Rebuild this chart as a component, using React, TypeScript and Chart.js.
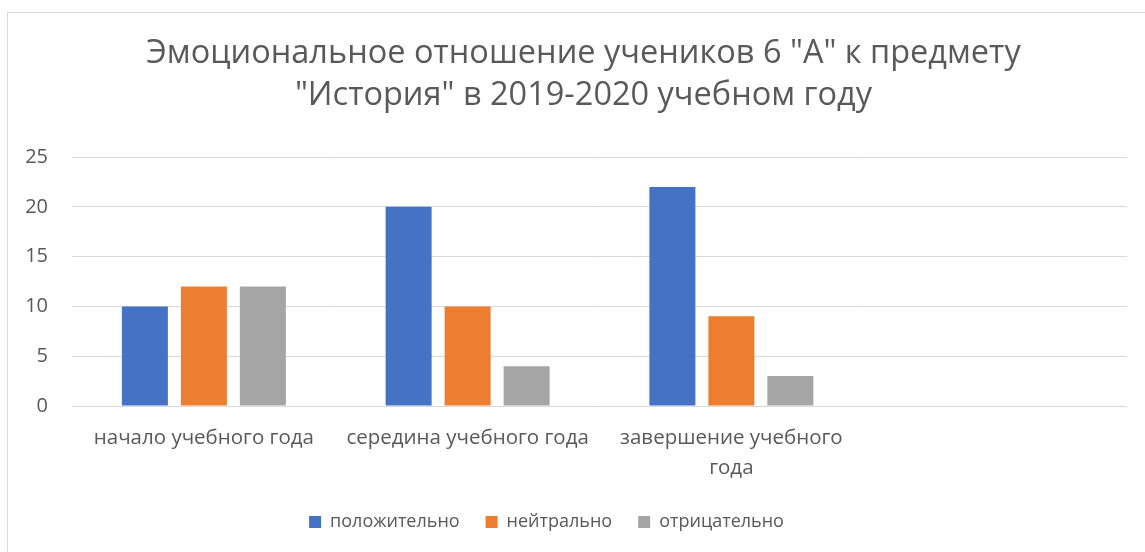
import React, { useEffect, useRef } from "react";
import { Chart, registerables } from "chart.js";

Chart.register(...registerables);

const categories: (string | string[])[] = [
  "начало учебного года",
  "середина учебного года",
  ["завершение учебного", "года"],
  "",
];
const positive = [10, 20, 22, null];
const neutral = [12, 10, 9, null];
const negative = [12, 4, 3, null];
const seriesNames = ["положительно", "нейтрально", "отрицательно"];
const titleLines = [
  "Эмоциональное отношение учеников 6 \"А\" к предмету",
  "\"История\" в 2019-2020 учебном году",
];
const yMax = 25;
const yStep = 5;

const FONT = "'Open Sans', 'Noto Sans', sans-serif";
const TEXT = "#595959";
const GRID = "#d9d9d9";

// shifts the title and legend boxes horizontally (as in the reference layout)
const shiftPlugin = {
  id: "shiftBlocks",
  afterLayout(chart: any) {
    const t = chart.titleBlock;
    if (t) {
      t.left += 20;
      t.right += 20;
    }
    const l = chart.legend;
    if (l) {
      l.left -= 17;
      l.right -= 17;
    }
  },
};

export default function App() {
  const ref = useRef<HTMLCanvasElement | null>(null);

  useEffect(() => {
    document.body.style.margin = "0";
    const ctx = ref.current!;
    const chart = new Chart(ctx, {
      type: "bar",
      data: {
        labels: categories as any,
        datasets: [
          { label: seriesNames[0], data: positive, backgroundColor: "#4472C4" },
          { label: seriesNames[1], data: neutral, backgroundColor: "#ED7D31" },
          { label: seriesNames[2], data: negative, backgroundColor: "#A5A5A5" },
        ],
      },
      plugins: [shiftPlugin],
      options: {
        animation: false,
        responsive: true,
        maintainAspectRatio: false,
        layout: { padding: { left: 0, right: 18, top: 0, bottom: 11 } },
        datasets: {
          bar: { barPercentage: 0.78, categoryPercentage: 0.671 },
        },
        plugins: {
          title: {
            display: true,
            text: titleLines,
            color: TEXT,
            font: { family: FONT, size: 32.5, weight: "normal", lineHeight: 42 / 32.5 },
            padding: { top: 33, bottom: 40 },
          },
          legend: {
            position: "bottom",
            labels: {
              color: TEXT,
              font: { family: FONT, size: 18 },
              boxWidth: 12,
              boxHeight: 12,
              padding: 26,
            },
          },
          tooltip: { enabled: false },
        },
        scales: {
          x: {
            grid: { display: false },
            border: { display: false },
            ticks: {
              color: TEXT,
              font: { family: FONT, size: 20.5, lineHeight: 30 / 20.5 },
              padding: 9,
              maxRotation: 0,
              autoSkip: false,
            },
            afterFit: (s: any) => {
              s.height -= 5;
            },
          },
          y: {
            min: 0,
            max: yMax,
            grid: { color: GRID, lineWidth: 1, drawTicks: false },
            border: { display: false },
            ticks: {
              stepSize: yStep,
              color: TEXT,
              font: { family: FONT, size: 20 },
              padding: 24,
            },
            afterFit: (s: any) => {
              s.width = 72;
            },
          },
        },
      },
    });
    return () => chart.destroy();
  }, []);

  return (
    <div
      style={{
        position: "fixed",
        left: 0,
        top: 0,
        width: 1145,
        height: 552,
        overflow: "hidden",
        background: "#fff",
      }}
    >
      <div
        style={{
          position: "absolute",
          left: 7,
          top: 12,
          width: 1200,
          height: 600,
          border: "1px solid #d9d9d9",
          boxSizing: "border-box",
        }}
      />
      <div style={{ position: "absolute", left: 0, top: 0, width: 1145, height: 552 }}>
        <canvas ref={ref} />
      </div>
    </div>
  );
}
